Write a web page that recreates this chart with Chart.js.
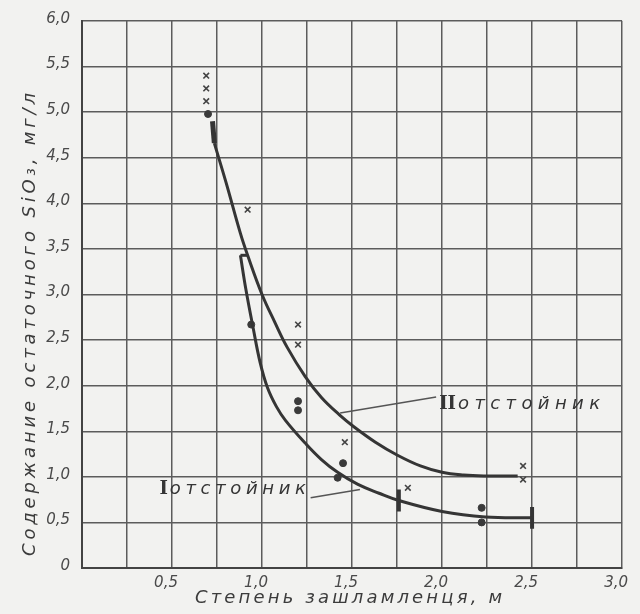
<!DOCTYPE html>
<html>
<head>
<meta charset="utf-8">
<script src="https://cdn.jsdelivr.net/npm/chart.js@4"></script>
<style>
  html, body { margin: 0; padding: 0; background: #f2f2f0; }
  #wrap { width: 640px; height: 614px; }
</style>
</head>
<body>
<div id="wrap"><canvas id="chart" width="640" height="614"></canvas></div>
<script>
// curve II (upper line)
const curve2X = [0.735, 0.80, 0.88, 0.92, 1.0, 1.07, 1.14, 1.24, 1.33, 1.43, 1.51, 1.63, 1.75, 1.88, 2.0, 2.12, 2.24, 2.42];
const curve2Y = [4.66, 4.23, 3.67, 3.43, 3.0, 2.70, 2.42, 2.10, 1.87, 1.68, 1.55, 1.38, 1.24, 1.12, 1.05, 1.02, 1.01, 1.01];
// curve I (lower line)
const curve1X = [0.88, 0.91, 0.95, 0.99, 1.03, 1.08, 1.13, 1.24, 1.33, 1.42, 1.53, 1.65, 1.76, 2.0, 2.24, 2.5];
const curve1Y = [3.43, 3.06, 2.64, 2.25, 1.98, 1.77, 1.62, 1.37, 1.19, 1.05, 0.92, 0.82, 0.74, 0.62, 0.56, 0.55];
// short flat joint where curve I leaves curve II
const capX = [0.88, 0.92];
const capY = [3.43, 3.43];
// thick start of the common curve
const topX = [0.725, 0.735];
const topY = [4.90, 4.66];
// vertical bars on curve I
const bar1X = [1.76, 1.76];
const bar1Y = [0.86, 0.62];
const bar2X = [2.5, 2.5];
const bar2Y = [0.67, 0.43];
// measured points: crosses (II) and dots (I)
const crossX = [0.69, 0.69, 0.69, 0.92, 1.2, 1.2, 1.46, 1.81, 2.45, 2.45];
const crossY = [5.40, 5.26, 5.12, 3.93, 2.67, 2.45, 1.38, 0.88, 1.12, 0.97];
const dotX = [0.70, 0.94, 1.2, 1.2, 1.45, 1.42, 2.22, 2.22];
const dotY = [4.98, 2.67, 1.83, 1.73, 1.15, 0.99, 0.66, 0.50];
// leader lines for the two labels
const lead2X = [1.434, 1.967];
const lead2Y = [1.70, 1.876];
const lead1X = [1.27, 1.544];
const lead1Y = [0.77, 0.86];

const xTitle = 'Степень зашламленця, м';
const yTitle = 'Содержание остаточного SiO₃, мг/л';

const INK = '#353535';
const GRID = '#5c5c5c';

const pts = (xs, ys) => xs.map((x, i) => ({ x, y: ys[i] }));
const line = (xs, ys, w, extra) => Object.assign({
  data: pts(xs, ys), showLine: true, borderColor: INK, borderWidth: w,
  pointRadius: 0, fill: false
}, extra || {});

// draw text from x, stretched out to the given width
function spaced(ctx, text, x, y, width) {
  const chars = [...text];
  const natural = chars.reduce((s, c) => s + ctx.measureText(c).width, 0);
  const gap = chars.length > 1 ? (width - natural) / (chars.length - 1) : 0;
  let cx = x;
  chars.forEach(c => { ctx.fillText(c, cx, y); cx += ctx.measureText(c).width + gap; });
}

function tag(ctx, numeral, px, py, width) {
  ctx.font = 'bold 18px "DejaVu Serif"';
  ctx.fillText(numeral, px, py);
  const w = ctx.measureText(numeral).width;
  ctx.font = 'italic 18px "DejaVu Sans"';
  spaced(ctx, 'отстойник', px + w + 2, py, width);
}

const labels = {
  id: 'labels',
  afterDraw(chart) {
    const { ctx, scales: { x: sx, y: sy } } = chart;
    ctx.save();
    ctx.fillStyle = INK;
    ctx.textBaseline = 'middle';
    ctx.textAlign = 'left';

    tag(ctx, 'II', sx.getPixelForValue(1.984), sy.getPixelForValue(1.79), 142);
    tag(ctx, 'I', sx.getPixelForValue(0.43), sy.getPixelForValue(0.86), 136);

    // axis titles
    ctx.fillStyle = '#3c3c3c';
    ctx.font = 'italic 18px "DejaVu Sans"';
    spaced(ctx, xTitle, 195, 598, 307);
    ctx.translate(30, 556);
    ctx.rotate(-Math.PI / 2);
    spaced(ctx, yTitle, 0, 0, 463);
    ctx.restore();
  }
};

const comma = v => v.toFixed(1).replace('.', ',');
const tickFont = { family: '"DejaVu Sans"', size: 15, style: 'italic' };

new Chart(document.getElementById('chart'), {
  type: 'scatter',
  data: {
    datasets: [
      line(curve2X, curve2Y, 3, { tension: 0.4 }),
      line(curve1X, curve1Y, 3, { tension: 0.4 }),
      line(capX, capY, 3),
      line(topX, topY, 5),
      line(bar1X, bar1Y, 4),
      line(bar2X, bar2Y, 4),
      line(lead2X, lead2Y, 1.5, { borderColor: '#555' }),
      line(lead1X, lead1Y, 1.5, { borderColor: '#555' }),
      { data: pts(crossX, crossY), pointStyle: 'crossRot', pointRadius: 4,
        borderColor: '#444', borderWidth: 1.6, showLine: false },
      { data: pts(dotX, dotY), pointStyle: 'circle', pointRadius: 3.5,
        backgroundColor: '#3a3a3a', borderColor: '#3a3a3a', borderWidth: 1, showLine: false }
    ]
  },
  options: {
    responsive: false,
    animation: false,
    layout: { padding: { left: 0, right: 12, top: 21, bottom: 0 } },
    plugins: { legend: { display: false }, tooltip: { enabled: false } },
    scales: {
      x: {
        type: 'linear', min: 0, max: 3,
        afterFit: s => { s.height = 46; },
        grid: { color: GRID, lineWidth: 1.5, drawTicks: false },
        border: { color: '#444', width: 2 },
        ticks: {
          stepSize: 0.25, autoSkip: false, maxRotation: 0, padding: 6, labelOffset: -6,
          color: '#4a4a4a', font: tickFont,
          callback: v => (v > 0 && Math.abs(v * 2 - Math.round(v * 2)) < 1e-6) ? comma(v) : ''
        }
      },
      y: {
        type: 'linear', min: 0, max: 6,
        afterFit: s => { s.width = 82; },
        grid: { color: GRID, lineWidth: 1.5, drawTicks: false },
        border: { color: '#444', width: 2 },
        ticks: {
          stepSize: 0.5, autoSkip: false, padding: 12, labelOffset: -2,
          color: '#4a4a4a', font: tickFont,
          callback: v => v === 0 ? '0' : comma(v)
        }
      }
    }
  },
  plugins: [labels]
});
</script>
</body>
</html>
